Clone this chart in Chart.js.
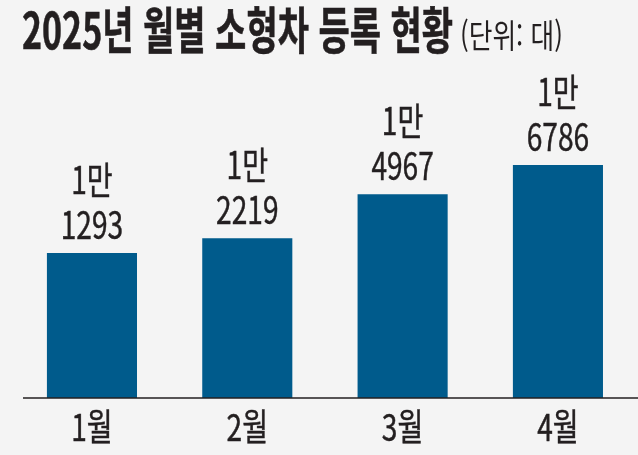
<!DOCTYPE html>
<html lang="ko"><head><meta charset="utf-8">
<script src="https://cdn.jsdelivr.net/npm/chart.js@4"></script>
<style>
html,body{margin:0;padding:0;background:#f4f4f4;width:638px;height:455px;overflow:hidden}
#wrap{position:relative;width:638px;height:455px}
#c{position:absolute;left:0;top:0}
.t{position:absolute;white-space:nowrap;color:#231f20;font-family:"Noto Sans CJK KR";transform-origin:0 0}
#title{left:22px;top:-9px;font-size:50px;font-weight:700;transform:scaleX(.68);-webkit-text-stroke:.6px #231f20}
#unit{left:460px;top:10px;font-size:33px;font-weight:400;transform:scaleX(.78)}
</style></head><body>
<div id="wrap">
<canvas id="c" width="638" height="455"></canvas>
<div class="t" id="title"></div><div class="t" id="unit"></div>
</div>
<script>
const titleText = "2025년 월별 소형차 등록 현황";
const unitText = "(단위: 대)";
const categories = ["1월","2월","3월","4월"];
const values = [11293,12219,14967,16786];
const labelTop = ["1만","1만","1만","1만"];
const labelBottom = ["1293","2219","4967","6786"];
document.getElementById('title').textContent = titleText;
document.getElementById('unit').textContent = unitText;
const INK = "#231f20";
function squeezed(ctx,text,x,y,size,sx){
  ctx.save();ctx.translate(x,y);ctx.scale(sx,1);
  ctx.font = `400 ${size}px "Noto Sans CJK KR"`;
  ctx.fillStyle = INK;ctx.textAlign="center";ctx.textBaseline="alphabetic";
  ctx.strokeStyle = INK;ctx.lineWidth = .5;
  ctx.fillText(text,0,0);ctx.strokeText(text,0,0);ctx.restore();
}
const texts = {id:"texts",afterDatasetsDraw(chart){
  const {ctx,scales:{x,y}} = chart;
  ctx.save();ctx.strokeStyle=INK;ctx.lineWidth=1.5;ctx.beginPath();
  ctx.moveTo(23,y.bottom);ctx.lineTo(638,y.bottom);ctx.stroke();ctx.restore();
  categories.forEach((c,i)=>{
    const px=x.getPixelForValue(i), py=y.getPixelForValue(values[i]);
    squeezed(ctx,labelBottom[i],px,py-14,38,.74);
    squeezed(ctx,labelTop[i],px,py-59,38,.74);
    squeezed(ctx,c,px,y.bottom+43,37,.76);
  });
}};
new Chart(document.getElementById('c'),{
  type:"bar",
  data:{labels:categories,datasets:[{data:values,backgroundColor:"#005b8c",barPercentage:1,categoryPercentage:.58}]},
  options:{responsive:false,animation:false,
    layout:{padding:{left:14.3,right:2.4,top:17.4,bottom:57}},
    plugins:{legend:{display:false},tooltip:{enabled:false},title:{display:false}},
    scales:{
      x:{display:false},
      y:{display:false,min:2240,max:26000}
    }}
  ,plugins:[texts]
});
</script></body></html>
